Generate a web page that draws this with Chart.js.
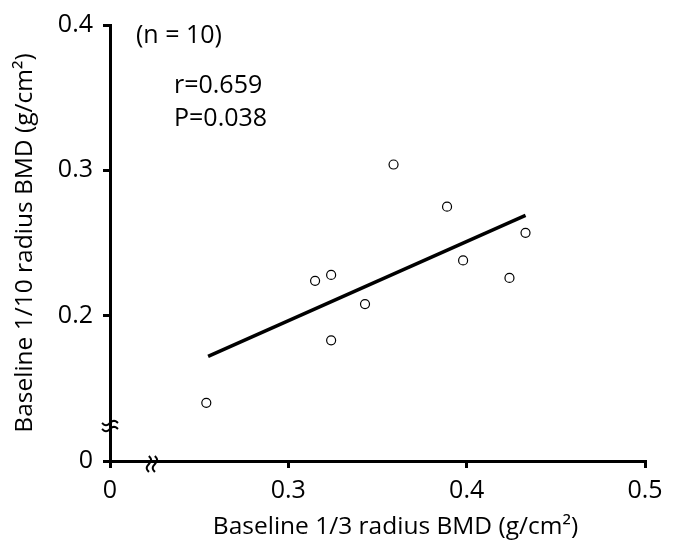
<!DOCTYPE html>
<html>
<head>
<meta charset="utf-8">
<script src="https://cdn.jsdelivr.net/npm/chart.js@4.4.1/dist/chart.umd.min.js"></script>
<style>
  html, body { margin: 0; padding: 0; background: #fff; }
  #wrap { width: 681px; height: 543px; }
</style>
</head>
<body>
<div id="wrap"><canvas id="bmd"></canvas></div>
<script>
// measured values, x = 1/3 radius BMD, y = 1/10 radius BMD
const radius13 = [0.254, 0.315, 0.324, 0.324, 0.343, 0.359, 0.389, 0.398, 0.424, 0.433];
const radius110 = [0.140, 0.224, 0.228, 0.183, 0.208, 0.304, 0.275, 0.238, 0.226, 0.257];
// regression line ends
const fitX = [0.255, 0.433];
const fitY = [0.172, 0.269];

const xTicks = [0.2, 0.3, 0.4, 0.5];
const xTickLabels = ['0', '0.3', '0.4', '0.5'];
const yTicks = [0.1, 0.2, 0.3, 0.4];
const yTickLabels = ['0', '0.2', '0.3', '0.4'];

const xTitle = 'Baseline 1/3 radius BMD (g/cm²)';
const yTitle = 'Baseline 1/10 radius BMD (g/cm²)';
const notes = ['(n = 10)', 'r=0.659', 'P=0.038'];
// axis break positions (data units)
const xBreak = 0.2235;
const yBreak = 0.1241;

const FONT = '"Open Sans", Lato, sans-serif';
Chart.defaults.font.family = FONT;
Chart.defaults.color = '#000';

const points = radius13.map((x, i) => ({ x: x, y: radius110[i] }));
const fitLine = fitX.map((x, i) => ({ x: x, y: fitY[i] }));

const extras = {
    id: 'extras',
    afterDraw(chart) {
        const ctx = chart.ctx;
        const xs = chart.scales.x, ys = chart.scales.y;
        ctx.save();
        ctx.fillStyle = '#000';
        ctx.font = '25px ' + FONT;
        ctx.textBaseline = 'middle';
        ctx.textAlign = 'left';
        ctx.fillText(notes[0], 136, 36);
        ctx.fillText(notes[1], 174, 86);
        ctx.fillText(notes[2], 174, 119);

        // x axis title sits a bit right of the plot centre in the original
        ctx.font = '24.5px ' + FONT;
        ctx.textAlign = 'center';
        ctx.fillText(xTitle, (xs.left + chart.width) / 2, 527);

        // break marks (small tildes)
        ctx.strokeStyle = '#000';
        ctx.lineWidth = 2;
        function tilde(cx, cy, vertical) {
            for (const off of [-3, 3]) {
                ctx.beginPath();
                for (let t = 0; t <= 16; t++) {
                    const a = -8 + t;
                    const w = 2.2 * Math.sin(a / 8 * Math.PI);
                    const px = vertical ? cx + off - w : cx + a;
                    const py = vertical ? cy + a : cy + off - w;
                    if (t === 0) ctx.moveTo(px, py); else ctx.lineTo(px, py);
                }
                ctx.stroke();
            }
        }
        tilde(xs.left, ys.getPixelForValue(yBreak), false);
        tilde(xs.getPixelForValue(xBreak), ys.bottom + 3, true);
        ctx.restore();
    }
};

new Chart(document.getElementById('bmd'), {
    type: 'scatter',
    data: {
        datasets: [
            {
                data: points,
                pointRadius: 4.5,
                pointBorderWidth: 1.2,
                pointBackgroundColor: '#fff',
                pointBorderColor: '#000'
            },
            {
                type: 'line',
                data: fitLine,
                borderColor: '#000',
                borderWidth: 3.5,
                pointRadius: 0,
                fill: false
            }
        ]
    },
    plugins: [extras],
    options: {
        responsive: true,
        maintainAspectRatio: false,
        animation: false,
        layout: { padding: { top: 13, right: 36, left: 0, bottom: 0 } },
        plugins: { legend: { display: false }, tooltip: { enabled: false } },
        scales: {
            x: {
                type: 'linear',
                min: 0.2,
                max: 0.5,
                afterBuildTicks(scale) { scale.ticks = xTicks.map(v => ({ value: v })); },
                afterFit(scale) { scale.height = 82; },
                ticks: {
                    font: { size: 25 },
                    padding: 8,
                    callback: (v, i) => xTickLabels[i]
                },
                grid: { display: true, drawOnChartArea: false, drawTicks: true, tickLength: 7, color: '#000', lineWidth: 3 },
                border: { display: true, color: '#000', width: 3 },
                title: { display: false }
            },
            y: {
                type: 'linear',
                min: 0.1,
                max: 0.4,
                afterBuildTicks(scale) { scale.ticks = yTicks.map(v => ({ value: v })); },
                afterFit(scale) { scale.width = 110; },
                ticks: {
                    font: { size: 25 },
                    padding: 10,
                    callback: (v, i) => yTickLabels[i]
                },
                grid: { display: true, drawOnChartArea: false, drawTicks: true, tickLength: 7, color: '#000', lineWidth: 3 },
                border: { display: true, color: '#000', width: 3 },
                title: {
                    display: true,
                    text: yTitle,
                    font: { size: 24.5 },
                    padding: { top: 10, bottom: 0 }
                }
            }
        }
    }
});
</script>
</body>
</html>
